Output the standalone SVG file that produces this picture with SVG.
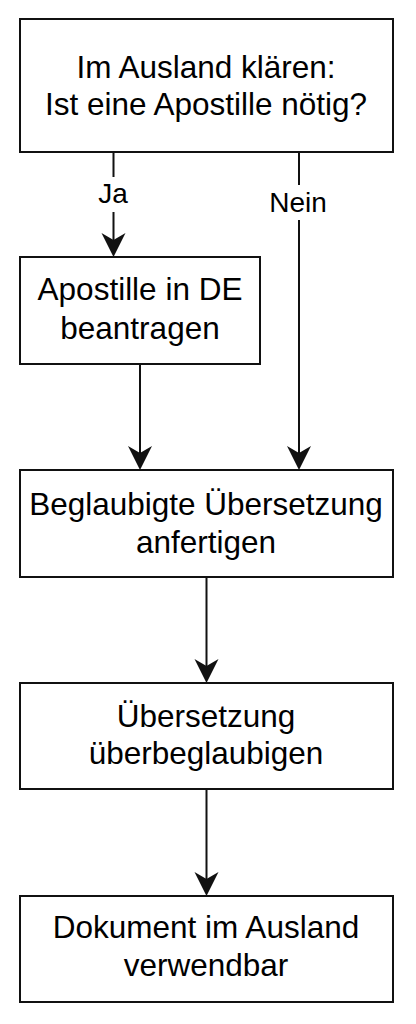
<svg xmlns="http://www.w3.org/2000/svg" width="416" height="1024" viewBox="0 0 416 1024">
  <style>
    .box { fill: #ffffff; stroke: #111111; stroke-width: 2; }
    .txt { font-family: "Liberation Sans", Arial, Helvetica, sans-serif; font-size: 31.5px; fill: #000000; text-anchor: middle; }
    .lbl { font-family: "Liberation Sans", Arial, Helvetica, sans-serif; font-size: 28px; fill: #000000; text-anchor: middle; }
    .edge { fill: none; stroke: #111111; stroke-width: 2; marker-end: url(#arr); }
  </style>
  <defs>
    <marker id="arr" markerUnits="userSpaceOnUse" markerWidth="30" markerHeight="30" viewBox="-30 -15 30 30" refX="-8" refY="0" orient="auto" overflow="visible">
      <path d="M0,0 L-24,-12 L-17,0 L-24,12 Z" fill="#111111" stroke="none"/>
    </marker>
  </defs>
  <rect width="416" height="1024" fill="#ffffff"/>

  <g id="connectors">
    <path class="edge" d="M113.5,152 V177 M113.5,212 V249"/>
    <text class="lbl" x="113" y="203">Ja</text>
    <path class="edge" d="M299,152 V185 M299,220 V462"/>
    <text class="lbl" x="298" y="212">Nein</text>
    <path class="edge" d="M140,364 V462"/>
    <path class="edge" d="M206.5,577 V675"/>
    <path class="edge" d="M206.5,789 V888"/>
  </g>

  <g id="n1">
    <rect class="box" x="20" y="19" width="373" height="133"/>
    <text class="txt" x="206" y="77.5">Im Ausland klären:</text>
    <text class="txt" x="206" y="115">Ist eine Apostille nötig?</text>
  </g>

  <g id="n2">
    <rect class="box" x="20" y="257" width="240" height="107"/>
    <text class="txt" x="140" y="300">Apostille in DE</text>
    <text class="txt" x="140" y="339">beantragen</text>
  </g>

  <g id="n3">
    <rect class="box" x="20" y="470" width="373" height="107"/>
    <text class="txt" x="206" y="515">Beglaubigte Übersetzung</text>
    <text class="txt" x="206" y="553">anfertigen</text>
  </g>

  <g id="n4">
    <rect class="box" x="20" y="683" width="373" height="106"/>
    <text class="txt" x="206" y="727">Übersetzung</text>
    <text class="txt" x="206" y="764">überbeglaubigen</text>
  </g>

  <g id="n5">
    <rect class="box" x="20" y="896" width="373" height="106"/>
    <text class="txt" x="206" y="938">Dokument im Ausland</text>
    <text class="txt" x="206" y="976">verwendbar</text>
  </g>
</svg>
